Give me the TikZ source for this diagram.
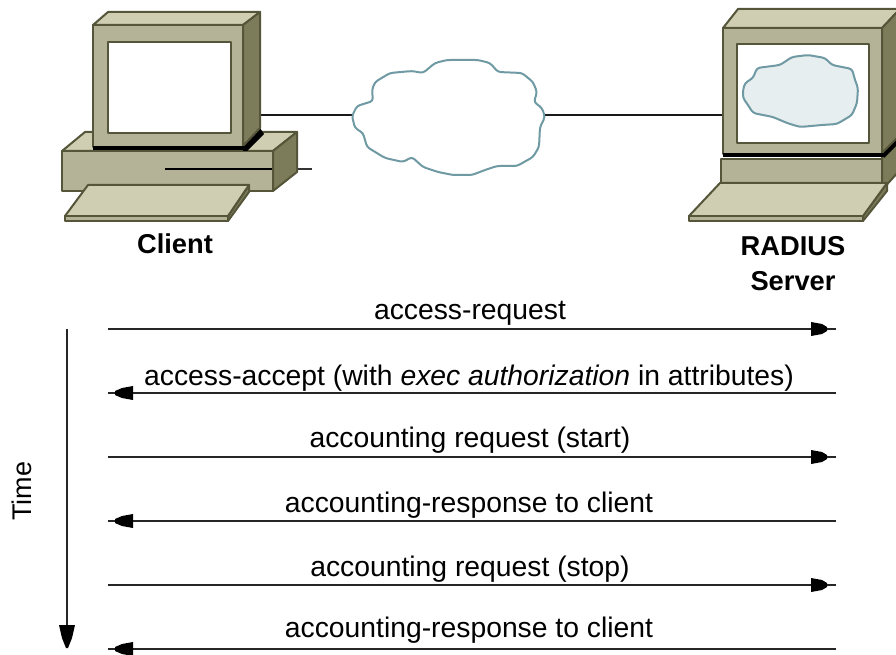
\documentclass[tikz,border=0pt]{standalone}
\usepackage{fontspec}
\setmainfont{Liberation Sans}
\usetikzlibrary{calc}
\definecolor{beigeL}{HTML}{CFCDB2}
\definecolor{beigeM}{HTML}{B4B297}
\definecolor{beigeD}{HTML}{7C7B5A}
\definecolor{edgeC}{HTML}{55553A}
\definecolor{cloudC}{HTML}{6F9AA3}
\definecolor{cloudF}{HTML}{E6EEEF}
\tikzset{
  x=1pt,y=-1pt,
  facet/.style={draw=edgeC,line width=2pt,line join=round},
  lightf/.style={facet,fill=beigeL},
  midf/.style={facet,fill=beigeM},
  darkf/.style={facet,fill=beigeD},
  cable/.style={line width=2pt,black!90},
  cloudline/.style={draw=cloudC,line width=2pt,line join=round,rounded corners=3pt},
  lbl/.style={font=\fontsize{28.3}{28}\selectfont,inner sep=0pt,anchor=base},
  bold lbl/.style={font=\fontsize{27.3}{35}\selectfont\bfseries,inner sep=0pt,align=center},
  flow/.style={line width=2pt,black!85}
}
\begin{document}
\begin{tikzpicture}
\useasboundingbox (0,0) rectangle (896,655);
\coordinate (clientPort) at (260,115);
\coordinate (serverPort) at (723,115);
\coordinate (cloudL) at (352,115);
\coordinate (cloudR) at (545,115);
% connectors
\draw[cable] (clientPort) -- (cloudL);
\draw[cable] (serverPort) -- (cloudR);
% client
\draw[line width=1.6pt,black!80] (272,169) -- (312,169);
\draw[lightf] (62,151) -- (85,132) -- (297,132) -- (273,151) -- cycle;
\draw[darkf] (273,151) -- (297,132) -- (297,172) -- (273,191) -- cycle;
\draw[midf] (62,151) rectangle (273,191);
\draw[line width=2.2pt,black] (165,169) -- (272,169);
\fill[black] (243,143) -- (260,128) -- (264,134) -- (247,151) -- (243,151) -- cycle;
\draw[lightf] (93,25) -- (108,12) -- (260,12) -- (243,25) -- cycle;
\draw[darkf] (243,25) -- (260,12) -- (260,128) -- (243,146) -- cycle;
\draw[midf] (93,25) rectangle (243,147);
\draw[line width=4pt,black] (93,148) -- (245,148);
\draw[facet,fill=white] (108,42) rectangle (231,133);
\draw[darkf] (228,216) -- (249,185) -- (249,192) -- (228,221) -- cycle;
\draw[lightf] (88,185) -- (249,185) -- (228,216) -- (65,216) -- cycle;
\draw[midf] (65,216) rectangle (228,221);
% cloud
\draw[cloudline,fill=white] (352,116) -- (357,106) -- (373,101) -- (372,90) -- (375,82) -- (390,73) -- (412,71) -- (423,73) -- (435,63) -- (447,60) -- (478,60) -- (490,63) -- (498,72) -- (522,73) -- (533,82) -- (537,92) -- (534,102) -- (542,108) -- (545,117) -- (540,127) -- (539,147) -- (533,157) -- (517,166) -- (497,166) -- (485,170) -- (472,175) -- (453,175) -- (438,172) -- (423,167) -- (412,157) -- (403,162) -- (385,158) -- (367,147) -- (363,133) -- (355,128) -- cycle;
% server
\draw[darkf] (882,155) -- (900,136) -- (900,170) -- (882,190) -- cycle;
\draw[midf] (721,159) rectangle (882,183);
\fill[black] (882,150) -- (896,136) -- (896,146) -- (884,158) -- cycle;
\draw[lightf] (723,28) -- (738,9) -- (900,9) -- (882,28) -- cycle;
\draw[darkf] (882,28) -- (900,9) -- (900,135) -- (882,153) -- cycle;
\draw[midf] (723,28) rectangle (882,154);
\draw[line width=4pt,black] (723,155.5) -- (884,155.5);
\draw[facet,fill=white] (737,44) rectangle (869,143);
\draw[cloudline,fill=cloudF] (743,90) -- (745,83) -- (753,78) -- (757,68) -- (780,65) -- (792,57) -- (808,55) -- (825,58) -- (832,65) -- (852,69) -- (855,80) -- (858,88) -- (857,103) -- (852,115) -- (837,124) -- (822,125) -- (800,127) -- (787,123) -- (773,117) -- (753,113) -- (748,105) -- (743,98) -- cycle;
\draw[darkf] (863,216) -- (887,183) -- (887,191) -- (863,221) -- cycle;
\draw[lightf] (720,183) -- (887,183) -- (863,216) -- (689,216) -- cycle;
\draw[midf] (689,216) rectangle (863,221);
% labels
\node[bold lbl] (client) at (175,244) {Client};
\node[bold lbl] (server) at (793,264) {RADIUS\\Server};
% time
\coordinate (timeA) at (67,329);
\coordinate (timeB) at (67,648);
\draw[flow] (timeA) -- (timeB);
\fill[black] ($(timeB)+(-8,-23)$) -- ($(timeB)+(8,-23)$) -- ($(timeB)+(5,-10)$) -- ($(timeB)+(1,0)$) -- ($(timeB)+(-1,0)$) -- ($(timeB)+(-5,-10)$) -- cycle;
\node[font=\fontsize{27}{27}\selectfont,rotate=90,inner sep=0pt] (time) at (22,491) {Time};
% flows
\foreach \n/\y in {1/329,2/393,3/457,4/521,5/585,6/649}{
  \coordinate (cl\n) at (108,\y);
  \coordinate (sv\n) at (836,\y);
}
\foreach \n in {1,3,5}{
  \draw[flow] (cl\n) -- (sv\n);
  \fill[black] ($(sv\n)+(-25,-7)$) -- ($(sv\n)+(-14,-5)$) -- ($(sv\n)+(-9,-2)$) -- ($(sv\n)+(-9,2)$) -- ($(sv\n)+(-14,5)$) -- ($(sv\n)+(-25,7)$) -- cycle;
}
\foreach \n in {2,4,6}{
  \draw[flow] (sv\n) -- (cl\n);
  \fill[black] ($(cl\n)+(25,-7)$) -- ($(cl\n)+(14,-5)$) -- ($(cl\n)+(7,-2)$) -- ($(cl\n)+(7,2)$) -- ($(cl\n)+(14,5)$) -- ($(cl\n)+(25,7)$) -- cycle;
}
\node[lbl] (m1) at (470,319) {access-request};
\node[lbl] (m2) at (469,385) {access-accept (with \textit{exec authorization} in attributes)};
\node[lbl] (m3) at (470,447) {accounting request (start)};
\node[lbl] (m4) at (469,512) {accounting-response to client};
\node[lbl] (m5) at (470,576) {accounting request (stop)};
\node[lbl] (m6) at (469,637) {accounting-response to client};
\end{tikzpicture}
\end{document}
